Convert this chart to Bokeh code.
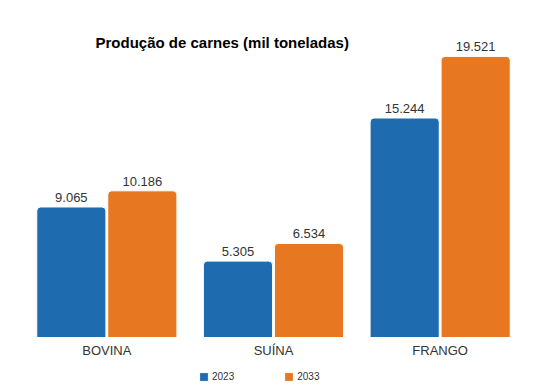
from bokeh.plotting import figure
from bokeh.models import ColumnDataSource, FactorRange, Range1d, Legend, LegendItem, Label
from bokeh.transform import dodge
from bokeh.core.properties import value
from bokeh.embed import file_html
from bokeh.resources import INLINE

categories = ["BOVINA", "SUÍNA", "FRANGO"]
years = ["2023", "2033"]
values_2023 = [9065, 5305, 15244]
values_2033 = [10186, 6534, 19521]
title_text = "Produção de carnes (mil toneladas)"

BLUE = "#1f6bb0"
ORANGE = "#e87722"
FONT = "Liberation Sans"

def fmt(v):
    return f"{v:,}".replace(",", ".")

src = ColumnDataSource(dict(
    cat=categories,
    zero=[0] * len(categories),
    v23=values_2023, v33=values_2033,
    l23=[fmt(v) for v in values_2023], l33=[fmt(v) for v in values_2033],
))

p = figure(width=548, height=383, x_range=FactorRange(*categories),
           y_range=Range1d(-3194, 23403), output_backend="svg", toolbar_location=None,
           min_border_left=23, min_border_right=25, min_border_top=0, min_border_bottom=0)
p.outline_line_color = None
p.grid.visible = False
p.yaxis.visible = False
p.xaxis.visible = False

w = 0.415
r1 = p.vbar(x=dodge("cat", -0.213, range=p.x_range), top="v23", width=w, source=src,
            fill_color=BLUE, line_color="white", line_width=1, border_radius=(4, 4, 0, 0))
r2 = p.vbar(x=dodge("cat", 0.213, range=p.x_range), top="v33", width=w, source=src,
            fill_color=ORANGE, line_color="white", line_width=1, border_radius=(4, 4, 0, 0))

for off, col, lab in [(-0.213, "v23", "l23"), (0.213, "v33", "l33")]:
    p.text(x=dodge("cat", off, range=p.x_range), y=col, text=lab, source=src,
           text_align="center", text_baseline="bottom", y_offset=-5,
           text_font=value(FONT), text_font_size="13px", text_color="#333333")

# category labels
p.text(x="cat", y="zero", text="cat", source=src, text_align="center",
       text_baseline="top", y_offset=5, text_font=value(FONT),
       text_font_size="13px", text_color="#333333")

p.add_layout(Label(x=72, y=341, x_units="screen", y_units="screen", text=title_text,
                   text_font=FONT, text_font_size="15px", text_font_style="bold",
                   text_color="#000000", text_baseline="middle"))

legend = Legend(items=[LegendItem(label=years[0], renderers=[r1]),
                       LegendItem(label=years[1], renderers=[r2])],
                orientation="horizontal", location=(175, 1), spacing=49,
                glyph_width=11, glyph_height=11, label_standoff=3, label_text_font=FONT,
                label_text_font_size="10px", label_text_color="#333333",
                border_line_color=None, background_fill_alpha=0, padding=1, margin=0)
p.add_layout(legend)

open("out.html", "w").write(file_html(p, INLINE))
